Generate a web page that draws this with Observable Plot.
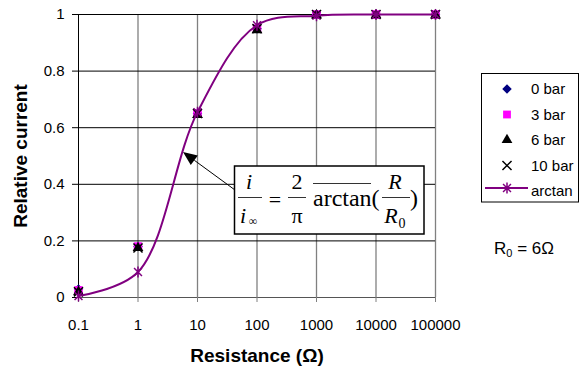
<!DOCTYPE html>
<html>
<head>
<meta charset="utf-8">
<script src="https://cdn.jsdelivr.net/npm/d3@7"></script>
<script src="https://cdn.jsdelivr.net/npm/@observablehq/plot@0.6"></script>
<style>
  html, body { margin: 0; padding: 0; background: #fff; }
  svg { display: block; }
</style>
</head>
<body>
<div id="chart"></div>
<script>
// ---- data ----
const resistance = [0.1, 1, 10, 100, 1000, 10000, 100000];
const bar0 = [0.03, 0.18, 0.65, 0.95, 1.0, 1.0, 1.0];
const bar3 = [0.025, 0.18, 0.65, 0.95, 1.0, 1.0, 1.0];
const bar6 = [0.02, 0.175, 0.645, 0.945, 0.998, 0.998, 0.998];
const bar10 = [0.02, 0.175, 0.65, 0.95, 1.0, 1.0, 1.0];
const arctanValues = [0.005, 0.09, 0.655, 0.962, 0.996, 1.0, 1.0];
const xTicks = [0.1, 1, 10, 100, 1000, 10000, 100000];
const yTicks = [0, 0.2, 0.4, 0.6, 0.8, 1];
const legendLabels = ["0 bar", "3 bar", "6 bar", "10 bar", "arctan"];

const toRows = vals => resistance.map((r, i) => ({R: r, v: vals[i]}));
const d0 = toRows(bar0), d3r = toRows(bar3), d6 = toRows(bar6), d10 = toRows(bar10), dArc = toRows(arctanValues);

// Excel-style star marker (x with a vertical bar)
const starSymbol = {
  draw(ctx, size) {
    const r = Math.sqrt(size / Math.PI);
    const k = r * 0.72;
    ctx.moveTo(0, -r); ctx.lineTo(0, r);
    ctx.moveTo(-k, -k); ctx.lineTo(k, k);
    ctx.moveTo(-k, k); ctx.lineTo(k, -k);
  }
};

const purple = "#800080";
const plot = Plot.plot({
  width: 580,
  height: 372,
  marginLeft: 78,
  marginRight: 145,
  marginTop: 14,
  marginBottom: 75,
  style: {fontFamily: "Arial, 'Liberation Sans', sans-serif", fontSize: "15px", color: "black", background: "white"},
  x: {type: "log", domain: [0.1, 100000]},
  y: {domain: [0, 1]},
  marks: [
    Plot.ruleX(xTicks.slice(1), {stroke: "#808080", strokeWidth: 1.3}),
    Plot.ruleY(yTicks.slice(1), {stroke: "black"}),
    Plot.ruleY([0], {stroke: "#555"}),
    Plot.ruleX([0.1], {stroke: "black"}),
    Plot.axisX({ticks: xTicks, tickFormat: d => String(d), tickSize: 5, tickPadding: 17, label: null, stroke: "#808080"}),
    Plot.axisY({ticks: yTicks, tickFormat: d => String(d), tickSize: 6, tickPadding: 8, label: null}),
    Plot.text(["Relative current"], {frameAnchor: "left", textAnchor: "middle", lineAnchor: "middle", rotate: -90, dx: -58, fontWeight: "bold", fontSize: 19}),
    Plot.text(["Resistance (Ω)"], {frameAnchor: "bottom", textAnchor: "middle", lineAnchor: "middle", dy: 58, fontWeight: "bold", fontSize: 19}),
    Plot.dot(d0, {x: "R", y: "v", symbol: "square", rotate: 45, r: 3.8, fill: "#000080"}),
    Plot.dot(d3r, {x: "R", y: "v", symbol: "square", r: 4.8, fill: "#FF00FF"}),
    Plot.dot(d6, {x: "R", y: "v", symbol: "triangle", r: 4, fill: "black"}),
    Plot.dot(d10, {x: "R", y: "v", symbol: "times", r: 4.2, stroke: "black", strokeWidth: 1.5}),
    Plot.line(dArc, {x: "R", y: "v", curve: "catmull-rom", stroke: purple, strokeWidth: 2}),
    Plot.dot(dArc, {x: "R", y: "v", symbol: starSymbol, r: 5.5, stroke: purple, fill: "none", strokeWidth: 1.5})
  ]
});
document.getElementById("chart").appendChild(plot);

// ---- annotations (formula box, arrow, legend, R0 note) ----
const svg = d3.select(plot);
const g = svg.append("g");

// arrow
const start = [235, 190], tip = [183, 152];
const dx = tip[0] - start[0], dy = tip[1] - start[1];
const len = Math.hypot(dx, dy), ux = dx / len, uy = dy / len;
const hl = 14, hw = 6;
const base = [tip[0] - ux * hl, tip[1] - uy * hl];
g.append("line").attr("x1", start[0]).attr("y1", start[1]).attr("x2", base[0]).attr("y2", base[1])
  .attr("stroke", "black").attr("stroke-width", 1);
g.append("polygon").attr("points", [
  tip, [base[0] - uy * hw, base[1] + ux * hw], [base[0] + uy * hw, base[1] - ux * hw]
].map(p => p.join(",")).join(" ")).attr("fill", "black");

// formula box
g.append("rect").attr("x", 234.5).attr("y", 166).attr("width", 189.5).attr("height", 68)
  .attr("fill", "white").attr("stroke", "black").attr("stroke-width", 1.5);
const serif = "'Liberation Serif', 'Times New Roman', serif";
const ft = (x, y, s, size, opts = {}) => {
  const t = g.append("text").attr("x", x).attr("y", y).attr("font-family", serif)
    .attr("font-size", size).attr("text-anchor", opts.anchor || "middle").text(s);
  if (opts.italic) t.attr("font-style", "italic");
  return t;
};
const hline = (x1, x2, y) => g.append("line").attr("x1", x1).attr("x2", x2).attr("y1", y).attr("y2", y)
  .attr("stroke", "#333").attr("stroke-width", 1);
ft(249, 189, "i", 22, {italic: true});
hline(238, 262, 197.5);
ft(243, 223, "i", 22, {italic: true});
ft(253, 225, "∞", 12);
ft(275, 207, "=", 22);
ft(297, 189, "2", 22);
hline(288, 306, 197.5);
ft(297, 223, "π", 22);
hline(313, 371, 183.5);
ft(313, 206, "arctan(", 24, {anchor: "start"});
ft(395, 189, "R", 22, {italic: true});
hline(382, 410, 197.5);
ft(391, 223, "R", 22, {italic: true});
ft(402, 228, "0", 14);
ft(410, 206, ")", 24, {anchor: "start"});

// legend
const lg = svg.append("g").attr("font-family", "Arial, 'Liberation Sans', sans-serif").attr("font-size", 15).attr("text-anchor", "start");
lg.append("rect").attr("x", 481.5).attr("y", 73.5).attr("width", 97).attr("height", 128.5)
  .attr("fill", "white").attr("stroke", "black").attr("stroke-width", 1);
const ly = [89, 114.5, 140, 165.5, 191];
const mx = 507;
const sym = (type, r) => d3.symbol(type, Math.PI * r * r)();
lg.append("path").attr("d", sym(d3.symbolSquare, 3.8)).attr("transform", `translate(${mx},${ly[0]}) rotate(45)`).attr("fill", "#000080");
lg.append("path").attr("d", sym(d3.symbolSquare, 4.4)).attr("transform", `translate(${mx},${ly[1]})`).attr("fill", "#FF00FF");
lg.append("path").attr("d", sym(d3.symbolTriangle, 4)).attr("transform", `translate(${mx},${ly[2]})`).attr("fill", "black");
lg.append("path").attr("d", sym(d3.symbolTimes, 4.2)).attr("transform", `translate(${mx},${ly[3]})`).attr("fill", "none").attr("stroke", "black").attr("stroke-width", 1.5);
lg.append("line").attr("x1", 485).attr("x2", 528).attr("y1", ly[4] - 3).attr("y2", ly[4] - 3).attr("stroke", purple).attr("stroke-width", 2);
lg.append("path").attr("d", d3.symbol(starSymbol, Math.PI * 5.5 * 5.5)()).attr("transform", `translate(${mx},${ly[4] - 3})`).attr("fill", "none").attr("stroke", purple).attr("stroke-width", 1.5);
legendLabels.forEach((s, i) => {
  lg.append("text").attr("x", 531).attr("y", ly[i]).attr("dy", "0.35em").text(s);
});

// R0 note
const note = svg.append("text").attr("x", 494).attr("y", 254).attr("text-anchor", "start")
  .attr("font-family", "Arial, 'Liberation Sans', sans-serif").attr("font-size", 17);
note.append("tspan").text("R");
note.append("tspan").attr("font-size", 11).attr("dy", 3).text("0");
note.append("tspan").attr("dy", -3).text(" = 6Ω");
</script>
</body>
</html>
